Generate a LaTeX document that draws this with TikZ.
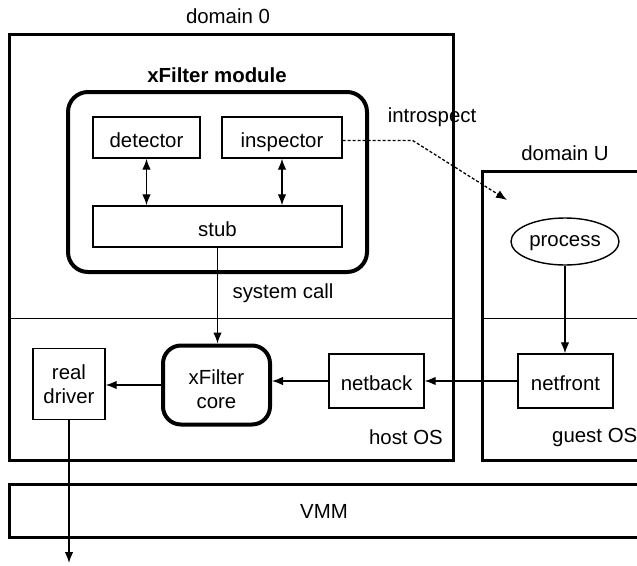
\documentclass[tikz,border=0pt]{standalone}
\usepackage{fontspec}
\setmainfont{Liberation Sans}
\usetikzlibrary{arrows.meta,shapes.geometric}

\tikzset{
  box/.style={draw, line width=1.4pt, inner sep=0pt, align=center},
  oneline/.style={text height=19pt, text depth=0pt},
  corebox/.style={draw, line width=4pt, rounded corners=18pt, inner sep=0pt, align=center},
  domainbox/.style={draw, line width=3pt},
  divider/.style={line width=1.3pt},
  arr/.style={line width=1.3pt, -{Latex[length=11pt,width=8.5pt]}},
  dblarr/.style={line width=1.3pt, {Latex[length=11pt,width=8.5pt]}-{Latex[length=11pt,width=8.5pt]}},
  dasharr/.style={line width=1.3pt, dash pattern=on 3pt off 2pt, -{Latex[length=11pt,width=8.5pt]}},
  lbl/.style={inner sep=0pt}
}

\begin{document}
\begin{tikzpicture}[x=1pt, y=-1pt, font=\fontsize{20.4}{24.5}\selectfont]
  \useasboundingbox (0,0) rectangle (637,565);
  \clip (0,0) rectangle (637,565);

  % domain 0
  \draw[domainbox] (9,34) rectangle (453,460);
  \draw[divider] (9,318.5) -- (453,318.5);
  \node[lbl] (d0label) at (228,16) {domain 0};

  % domain U
  \draw[domainbox] (482,171) rectangle (660,460);
  \draw[divider] (482,318.5) -- (660,318.5);
  \node[lbl] (dulabel) at (565,153) {domain U};

  % VMM
  \draw[domainbox] (9,484) rectangle (660,537);
  \node[lbl] (vmm) at (324,511) {VMM};

  % xFilter module
  \node[corebox, rounded corners=20pt, minimum width=299pt, minimum height=180pt] (module) at (217.5,182) {};
  \node[lbl, font=\fontsize{20.4}{24.5}\selectfont\bfseries] (modlabel) at (217,75) {xFilter module};
  \node[box, oneline, minimum width=107pt, minimum height=41pt] (detector) at (146.5,137.5) {detector};
  \node[box, oneline, minimum width=120pt, minimum height=41pt] (inspector) at (282,137.5) {inspector};
  \node[box, oneline, minimum width=249pt, minimum height=41pt] (stub) at (217.5,226.5) {stub};

  % lower layer of domain 0
  \node[corebox, minimum width=107pt, minimum height=79pt] (core) at (216.5,385) {};
  \node[lbl, align=center] (coretext) at ([yshift=-4pt]core.center) {xFilter\\core};
  \node[box, minimum width=72pt, minimum height=71pt] (real) at (69,384) {real\\driver};
  \node[box, oneline, minimum width=95pt, minimum height=54pt] (netback) at (376.5,381) {netback};
  \node[lbl, anchor=east] (hostos) at (443,437) {host OS};
  \node[lbl] (syscall) at (283,293) {system call};

  % domain U contents
  \node[draw, ellipse, text height=14.7pt, text depth=4.3pt, line width=1.4pt, inner sep=0pt, minimum width=108pt, minimum height=47pt] (process) at (565,241.5) {process};
  \node[box, oneline, minimum width=95pt, minimum height=54pt] (netfront) at (565.5,381) {netfront};
  \node[lbl, anchor=west] (guestos) at (552,437) {guest OS};

  % introspection
  \node[lbl] (introlabel) at (432,117) {introspect};
  \coordinate (introtip) at (507,200);
  \coordinate (out) at (69,563);

  % connectors
  \draw[dblarr] (detector.south) -- (detector.south |- stub.north);
  \draw[dblarr] (inspector.south) -- (inspector.south |- stub.north);
  \draw[arr] (stub.south) -- (stub.south |- core.north);
  \draw[arr] (core.west) -- (core.west -| real.east);
  \draw[arr] (netback.west) -- (netback.west -| core.east);
  \draw[arr] (netfront.west) -- (netback.east);
  \draw[arr] (process.south) -- (process.south |- netfront.north);
  \draw[arr] (real.south) -- (out);
  \draw[dasharr] ([yshift=-3pt]inspector.east) -- ++(70,0) -- (introtip);
\end{tikzpicture}
\end{document}
